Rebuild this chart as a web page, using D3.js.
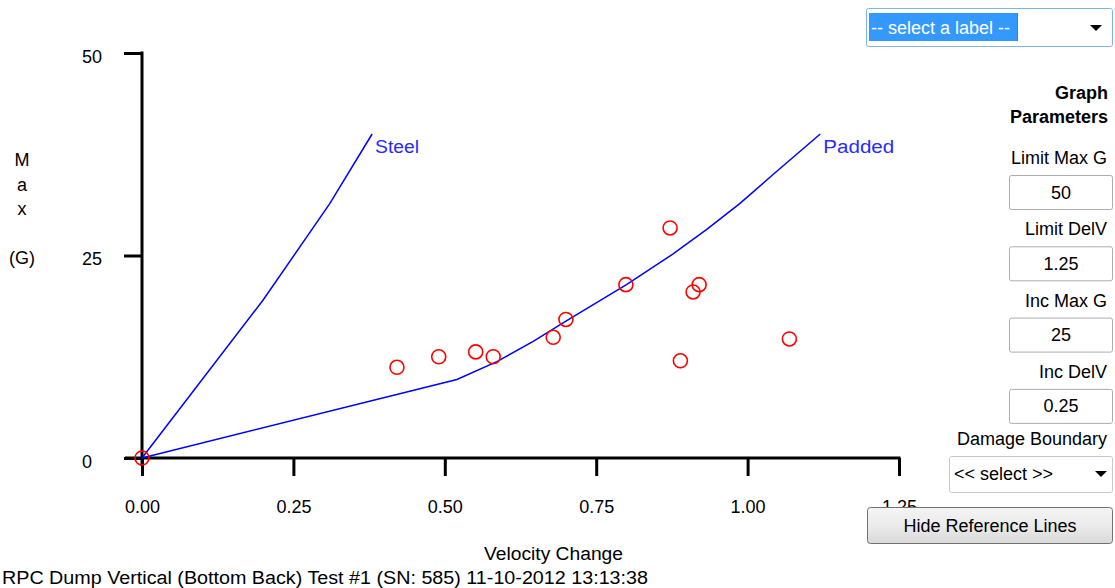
<!DOCTYPE html>
<html>
<head>
<meta charset="utf-8">
<script src="https://cdn.jsdelivr.net/npm/d3@7"></script>
<style>
  body { margin: 0; background: #fff; }
  svg { display: block; font-family: "Liberation Sans", Arial, sans-serif; }
</style>
</head>
<body>
<svg id="chart" width="1115" height="588"></svg>
<script>
// test points: velocity change vs max G
const delV = [0, 0.421, 0.490, 0.551, 0.580, 0.679, 0.700, 0.799, 0.872, 0.889, 0.910, 0.920, 1.069];
const maxG = [0, 11.2, 12.5, 13.1, 12.5, 14.9, 17.1, 21.4, 28.4, 12.0, 20.5, 21.4, 14.7];

// reference lines
const steelV = [0, 0.2, 0.31, 0.38];
const steelG = [0, 19.5, 31.4, 40];
const paddedV = [0, 0.52, 0.586, 0.646, 0.70, 0.80, 0.877, 0.932, 0.987, 1.042, 1.12];
const paddedG = [0, 9.7, 11.9, 14.4, 16.9, 21.4, 25.2, 28.2, 31.4, 35.0, 40];

const xTicks = [0, 0.25, 0.5, 0.75, 1.0, 1.25];
const yTicks = [0, 25, 50];
const yLabelLines = ['M', 'a', 'x', '', '(G)'];
const xTitle = 'Velocity Change';
const chartTitle = 'RPC Dump Vertical (Bottom Back) Test #1 (SN: 585) 11-10-2012 13:13:38';

const params = [
    { label: 'Limit Max G', value: '50' },
    { label: 'Limit DelV', value: '1.25' },
    { label: 'Inc Max G', value: '25' },
    { label: 'Inc DelV', value: '0.25' }
];

const svg = d3.select('#chart');
const fs = 18;

const x = d3.scaleLinear().domain([0, 1.25]).range([142, 899]);
const y = d3.scaleLinear().domain([0, 50]).range([458, 53]);

// x axis
svg.append('g').attr('transform', 'translate(0,' + y(0) + ')')
    .call(d3.axisBottom(x).tickValues(xTicks).tickSize(18).tickFormat(d3.format('.2f')))
    .call(g => {
        g.select('.domain').remove();
        g.selectAll('.tick line').attr('stroke', '#000').attr('stroke-width', 3);
        g.selectAll('.tick text').attr('dy', null).attr('y', 55)
            .attr('font-size', fs).attr('font-family', null).attr('fill', '#000');
    });

// y axis
svg.append('g').attr('transform', 'translate(' + x(0) + ',0)')
    .call(d3.axisLeft(y).tickValues(yTicks).tickSize(18))
    .call(g => {
        g.select('.domain').remove();
        g.selectAll('.tick line').attr('stroke', '#000').attr('stroke-width', 3);
        g.selectAll('.tick text').attr('dy', null).attr('y', 9).attr('x', -60)
            .attr('text-anchor', 'start')
            .attr('font-size', fs).attr('font-family', null).attr('fill', '#000');
    });

svg.append('line')
    .attr('x1', x(0) - 17).attr('x2', x(1.25) + 1.5)
    .attr('y1', y(0)).attr('y2', y(0))
    .attr('stroke', '#000').attr('stroke-width', 3);
svg.append('line')
    .attr('x1', x(0)).attr('x2', x(0))
    .attr('y1', y(50) - 1.5).attr('y2', y(0) + 8)
    .attr('stroke', '#000').attr('stroke-width', 3);

// reference lines
const line = d3.line().x(d => x(d[0])).y(d => y(d[1]));
const refs = [
    { name: 'Steel', pts: d3.zip(steelV, steelG), w: 44 },
    { name: 'Padded', pts: d3.zip(paddedV, paddedG), w: 71 }
];
refs.forEach(r => {
    svg.append('path').datum(r.pts).attr('d', line)
        .attr('fill', 'none').attr('stroke', '#0000ff').attr('stroke-width', 1.5);
    const last = r.pts[r.pts.length - 1];
    svg.append('text')
        .attr('x', x(last[0]) + 3).attr('y', y(last[1]) + 19)
        .attr('font-size', 18).attr('fill', '#2a2aff')
        .attr('textLength', r.w).attr('lengthAdjust', 'spacingAndGlyphs')
        .text(r.name);
});

// points
svg.append('g').selectAll('circle').data(d3.zip(delV, maxG)).join('circle')
    .attr('cx', d => x(d[0])).attr('cy', d => y(d[1])).attr('r', 7)
    .attr('fill', 'none').attr('stroke', '#ff0000').attr('stroke-width', 1.6);

// axis titles
svg.append('g').selectAll('text').data(yLabelLines).join('text')
    .attr('x', 22).attr('y', (d, i) => 166 + i * 24.5)
    .attr('text-anchor', 'middle').attr('font-size', fs).text(d => d);

svg.append('text').attr('x', 484).attr('y', 560)
    .attr('font-size', fs).attr('textLength', 139).attr('lengthAdjust', 'spacingAndGlyphs')
    .text(xTitle);
svg.append('text').attr('x', 2).attr('y', 584)
    .attr('font-size', fs).attr('textLength', 646).attr('lengthAdjust', 'spacingAndGlyphs')
    .text(chartTitle);

// ---- right-hand control panel ----
const arrow = (cx, cy) => svg.append('path')
    .attr('d', `M${cx - 6},${cy - 3}L${cx + 6},${cy - 3}L${cx},${cy + 3}Z`).attr('fill', '#000');

// label dropdown
svg.append('rect').attr('x', 866.5).attr('y', 8.5).attr('width', 246).attr('height', 38)
    .attr('rx', 2).attr('fill', '#fff').attr('stroke', '#7eb4ea');
svg.append('rect').attr('x', 869).attr('y', 13).attr('width', 149).attr('height', 28).attr('fill', '#3399ff');
svg.append('line').attr('x1', 1017.5).attr('x2', 1017.5).attr('y1', 13).attr('y2', 41)
    .attr('stroke', '#c06010').attr('stroke-width', 1);
svg.append('text').attr('x', 871).attr('y', 34).attr('font-size', fs).attr('fill', '#fff')
    .text('-- select a label --');
arrow(1096, 28);

svg.append('text').attr('x', 1108).attr('y', 99).attr('text-anchor', 'end')
    .attr('font-size', fs).attr('font-weight', 'bold').text('Graph');
svg.append('text').attr('x', 1108).attr('y', 123).attr('text-anchor', 'end')
    .attr('font-size', fs).attr('font-weight', 'bold').text('Parameters');

params.forEach((p, i) => {
    const top = 175 + i * 71.3;
    svg.append('text').attr('x', 1107).attr('y', top - 11).attr('text-anchor', 'end')
        .attr('font-size', fs).text(p.label);
    svg.append('rect').attr('x', 1009.5).attr('y', top + 0.5).attr('width', 103).attr('height', 34)
        .attr('rx', 2).attr('fill', '#fff').attr('stroke', '#abadb3');
    svg.append('text').attr('x', 1061).attr('y', top + 23.5).attr('text-anchor', 'middle')
        .attr('font-size', fs).text(p.value);
});

svg.append('text').attr('x', 1107).attr('y', 445).attr('text-anchor', 'end')
    .attr('font-size', fs).text('Damage Boundary');
svg.append('rect').attr('x', 949.5).attr('y', 456.5).attr('width', 163).attr('height', 36)
    .attr('rx', 2).attr('fill', '#fff').attr('stroke', '#c8c8c8');
svg.append('text').attr('x', 954).attr('y', 480).attr('font-size', fs).text('<< select >>');
arrow(1101, 474);

// button
const grad = svg.append('defs').append('linearGradient').attr('id', 'btn')
    .attr('x1', 0).attr('y1', 0).attr('x2', 0).attr('y2', 1);
grad.append('stop').attr('offset', '0%').attr('stop-color', '#f4f4f4');
grad.append('stop').attr('offset', '50%').attr('stop-color', '#ebebeb');
grad.append('stop').attr('offset', '100%').attr('stop-color', '#d9d9d9');
svg.append('rect').attr('x', 867.5).attr('y', 507.5).attr('width', 245).attr('height', 36)
    .attr('rx', 3).attr('fill', 'url(#btn)').attr('stroke', '#707070');
svg.append('text').attr('x', 990).attr('y', 532).attr('text-anchor', 'middle')
    .attr('font-size', fs).text('Hide Reference Lines');
</script>
</body>
</html>
